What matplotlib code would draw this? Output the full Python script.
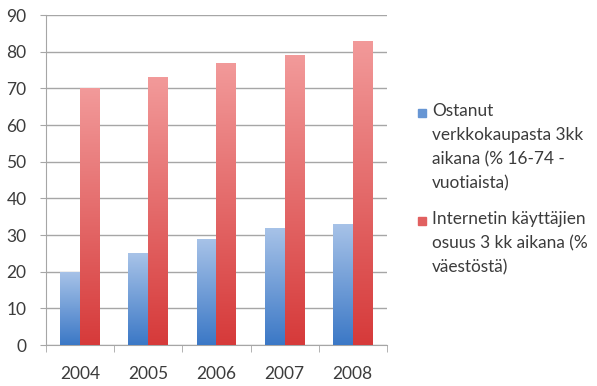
import numpy as np
import matplotlib.pyplot as plt
from matplotlib.patches import Rectangle
from matplotlib.colors import LinearSegmentedColormap

plt.rcParams['font.family'] = ['Lato', 'DejaVu Sans']

years = ['2004', '2005', '2006', '2007', '2008']
ostanut = [20, 25, 29, 32, 33]
internet = [70, 73, 77, 79, 83]
labels = ['Ostanut\nverkkokaupasta 3kk\naikana (% 16-74 -\nvuotiaista)',
          'Internetin käyttäjien\nosuus 3 kk aikana (%\nväestöstä)']

txt = '#3c3c3c'
grid = '#a6a6a6'
blue_cm = LinearSegmentedColormap.from_list('b', ['#3b78c6', '#a8c3e8'])
red_cm = LinearSegmentedColormap.from_list('r', ['#d63a3a', '#f29a9a'])

fig = plt.figure(figsize=(5.97, 3.86), dpi=100)
ax = fig.add_axes([0.077, 0.106, 0.571, 0.855])

x = np.arange(len(years))
w = 0.29
grad = np.linspace(0, 1, 256).reshape(-1, 1)

def gbar(xs, vals, cm):
    bars = ax.bar(xs, vals, w, align='edge', color='none', edgecolor='none', zorder=3)
    for b in bars:
        x0, y0 = b.get_x(), b.get_y()
        im = ax.imshow(grad, cmap=cm, origin='lower', aspect='auto',
                       extent=[x0, x0 + b.get_width(), y0, y0 + b.get_height()], zorder=3)
        im.set_clip_path(b)

gbar(x - w, ostanut, blue_cm)
gbar(x, internet, red_cm)

ax.set_xlim(-0.5, 4.5)
ax.set_ylim(0, 90)
ax.set_yticks(range(0, 91, 10))
ax.set_xticks(x)
ax.set_xticklabels(years)
ax.set_xticks(np.arange(-0.5, 5, 1), minor=True)
ax.tick_params(axis='x', which='major', length=0, pad=15, labelsize=12.5, colors=txt)
ax.tick_params(axis='x', which='minor', length=5, color=grid, direction='out')
ax.tick_params(axis='y', length=4, color=grid, pad=10, labelsize=12.5, colors=txt)
ax.yaxis.grid(True, color=grid, lw=1, zorder=0)
ax.set_axisbelow(True)
for s in ['top', 'right']:
    ax.spines[s].set_visible(False)
for s in ['left', 'bottom']:
    ax.spines[s].set_color(grid)

# legend (centred vertically on the right)
W, H = 597, 386
for lab, cm, yc in zip(labels, [blue_cm, red_cm], [113, 221]):
    fig.patches.append(Rectangle((418 / W, 1 - (yc + 4) / H), 8 / W, 8 / H,
                                 transform=fig.transFigure, color=cm(0.4), figure=fig))
    fig.text(432 / W, 1 - (yc - 10) / H, lab, ha='left', va='top', fontsize=12.4,
             color=txt, linespacing=1.62)

fig.savefig('out.png', dpi=100)
